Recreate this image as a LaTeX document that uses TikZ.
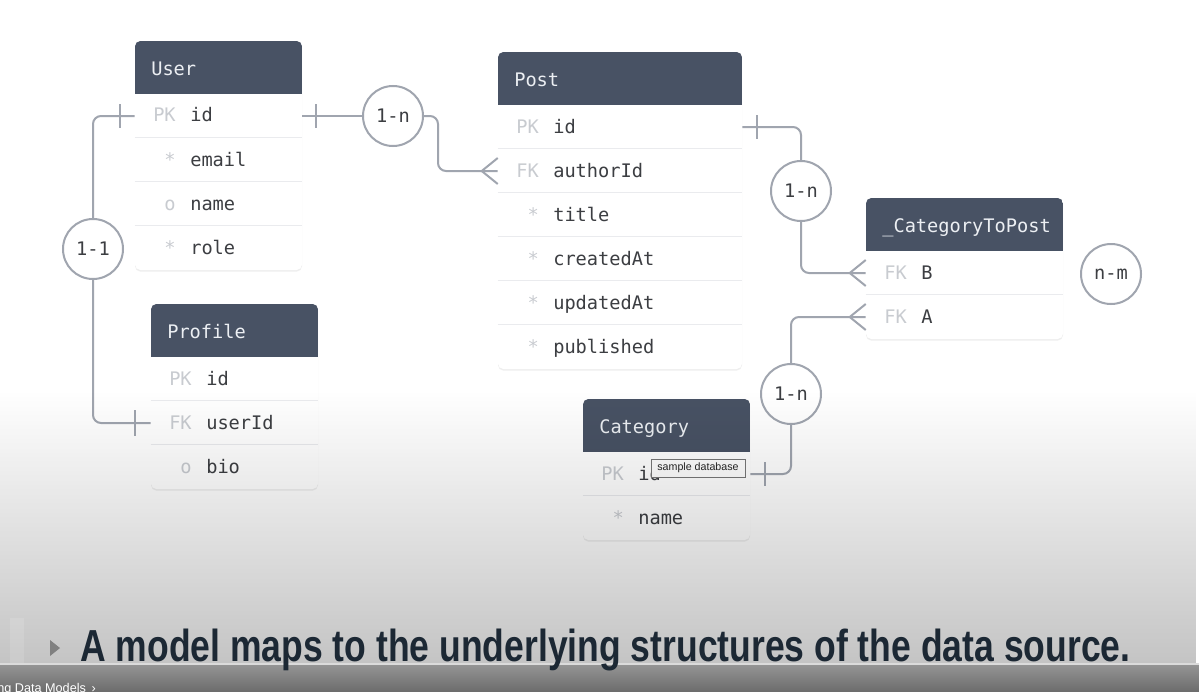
\documentclass[tikz,border=0pt]{standalone}
\usepackage{fontspec}
\setmainfont{Liberation Sans}
\newfontfamily\monof{DejaVu Sans Mono}
\usetikzlibrary{calc,shadows,fadings}
\definecolor{hdr}{RGB}{72,82,100}
\definecolor{lnc}{RGB}{160,165,175}
\definecolor{keyc}{RGB}{200,203,208}
\definecolor{fld}{RGB}{60,62,66}
\definecolor{sepc}{RGB}{234,235,238}
\definecolor{hdrtx}{RGB}{236,239,243}
\definecolor{navy}{RGB}{28,40,52}
\definecolor{tipb}{RGB}{120,120,120}
\tikzfading[name=fadedown, top color=transparent!100, bottom color=transparent!0]
\tikzset{
  conn/.style={draw=lnc, line width=1.5pt},
  card/.style={fill=white, rounded corners=4pt, drop shadow={opacity=0.13, shadow xshift=0pt, shadow yshift=-1.2pt}},
  rowbox/.style={rectangle, minimum height=33pt, inner sep=0pt},
  monofnt/.style={font=\monof\fontsize{14}{16}\selectfont},
  keytxt/.style={monofnt, text=keyc, inner sep=0pt, anchor=base east},
  fldtxt/.style={monofnt, text=fld, inner sep=0pt, anchor=base west},
  hdrtxt/.style={monofnt, text=hdrtx, inner sep=0pt, anchor=base west},
  rel/.style={circle, draw=lnc, line width=1.5pt, fill=white, minimum size=45pt, inner sep=0pt, monofnt, text=fld},
}
% #1 name, #2 left, #3 top, #4 width, #5 title, #6 rows, #7 key/field list
\newcommand\erbox[7]{%
  \path[card] (#2,#3) rectangle ({#2+#4},{#3+53+44*#6});
  \begin{scope}
    \clip[rounded corners=4pt] (#2,#3) rectangle ({#2+#4},{#3+53+44*#6});
    \fill[hdr] (#2,#3) rectangle ({#2+#4},{#3+53});
  \end{scope}
  \node[hdrtxt] (#1-h) at ({#2+16},{#3+34}) {#5};
  \foreach \k/\f [count=\i] in {#7}{%
    \node[rowbox, minimum width={#4*0.75pt}] (#1-\i) at ({#2+#4/2},{#3+75+44*(\i-1)}) {};
    \node[keytxt] (#1-\i-k) at ({#2+41},{#3+81+44*(\i-1)}) {\k};
    \node[fldtxt] (#1-\i-f) at ({#2+55},{#3+81+44*(\i-1)}) {\f};
    \ifnum\i>1 \draw[sepc, line width=0.7pt] (#1-\i.north west) -- (#1-\i.north east);\fi
  }%
}
\newcommand\crowfoot[1]{%
  \draw[conn] ($(#1)+(-16,0)$) -- ($(#1)+(0,-13)$);
  \draw[conn] ($(#1)+(-16,0)$) -- ($(#1)+(0,13)$);
}
\begin{document}
\begin{tikzpicture}[x=0.75pt,y=-0.75pt]
\useasboundingbox (0,0) rectangle (1199,692);
\fill[white] (0,0) rectangle (1199,692);

% tables
\erbox{user}{135}{41}{167}{User}{4}{PK/id, */email, o/name, */role}
\erbox{post}{498}{52}{244}{Post}{6}{PK/id, FK/authorId, */title, */createdAt, */updatedAt, */published}
\erbox{ctp}{866}{198}{197}{\_CategoryToPost}{2}{FK/B, FK/A}
\erbox{profile}{151}{304}{167}{Profile}{3}{PK/id, FK/userId, o/bio}
\erbox{cat}{583}{399}{167}{Category}{2}{PK/id, */name}

% relation circles
\node[rel] (c11) at (93,249) {1-1};
\node[rel] (c1) at (393,116) {1-n};
\node[rel] (c2) at (801,191) {1-n};
\node[rel] (c3) at (791,394) {1-n};
\node[rel] (cnm) at (1111,274) {n-m};

% User - Profile (1-1)
\draw[conn, rounded corners=6pt] (user-1.west) -| (c11.north);
\draw[conn, rounded corners=6pt] (c11.south) |- (profile-2.west);
\draw[conn] ($(user-1.west)+(-15,-12)$) -- ++(0,24);
\draw[conn] ($(profile-2.west)+(-16,-13)$) -- ++(0,26);

% User - Post (1-n)
\draw[conn] (user-1.east) -- (c1.west);
\draw[conn] ($(user-1.east)+(14,-12)$) -- ++(0,24);
\draw[conn, rounded corners=6pt] (c1.east) -- ++(14,0) |- (post-2.west);
\crowfoot{post-2.west}

% Post - _CategoryToPost (1-n)
\draw[conn, rounded corners=6pt] (post-1.east) -| (c2.north);
\draw[conn] ($(post-1.east)+(15,-12)$) -- ++(0,24);
\draw[conn, rounded corners=6pt] (c2.south) |- (ctp-1.west);
\crowfoot{ctp-1.west}

% Category - _CategoryToPost (1-n)
\draw[conn, rounded corners=6pt] (cat-1.east) -| (c3.south);
\draw[conn] ($(cat-1.east)+(15,-12)$) -- ++(0,24);
\draw[conn, rounded corners=6pt] (c3.north) |- (ctp-2.west);
\crowfoot{ctp-2.west}

% tooltip
\node[draw=tipb, fill=white, line width=0.6pt, minimum width=70.5pt, minimum height=13.5pt, inner sep=1pt,
      font=\fontsize{8}{9}\selectfont, text=black!85] (tip) at (698,468) {sample database};

% grey overlay of the lower part
\fill[black, opacity=0.23, path fading=fadedown] (0,390) rectangle (1199,663);

% bottom bar
\fill[black!14] (0,663) rectangle (1199,665);
\shade[top color=black!42, bottom color=black!58] (0,665) rectangle (1199,692);
\fill[white, opacity=0.12] (10,618) rectangle (24,663);
\fill[black!50] (50,640) -- (60,648) -- (50,656) -- cycle;
\node[anchor=base west, inner sep=0pt, text=navy] (caption) at (80,661)
  {\resizebox*{787.5pt}{31.5pt}{\bfseries A model maps to the underlying structures of the data source.}};
\node[anchor=base west, inner sep=0pt, text=white, font=\fontsize{9.5}{10}\selectfont] (crumb) at (-3,692) {ng Data Models \,›};
\end{tikzpicture}
\end{document}
